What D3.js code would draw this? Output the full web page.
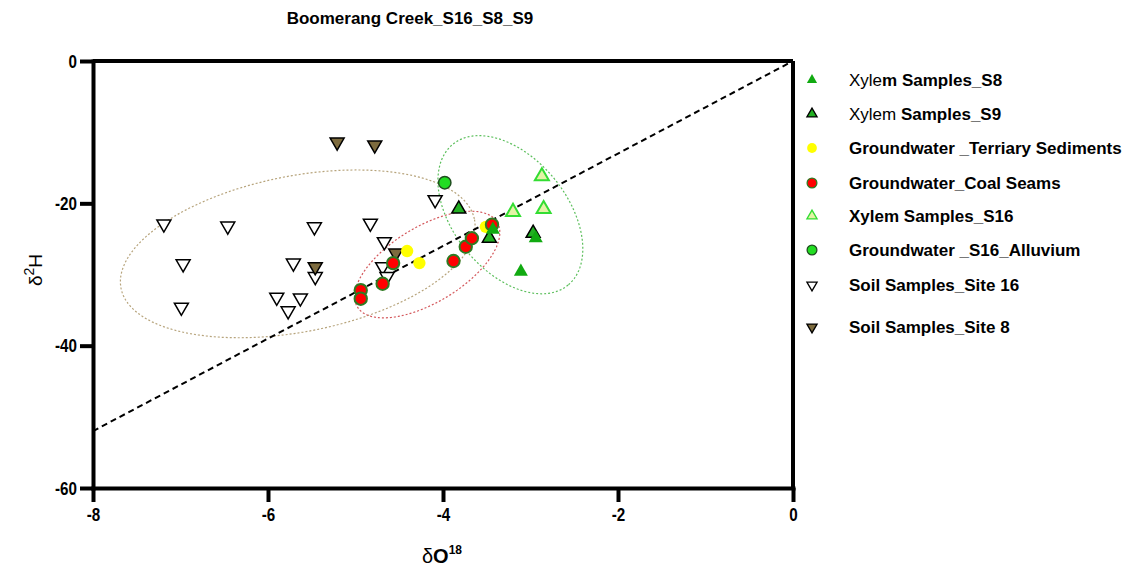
<!DOCTYPE html>
<html>
<head>
<meta charset="utf-8">
<script src="https://cdn.jsdelivr.net/npm/d3@7"></script>
<style>
  body { margin: 0; background: #fff; }
  svg { display: block; font-family: "Liberation Sans", Arial, sans-serif; }
  .axis .tick text { font-family: "Liberation Sans", Arial, sans-serif; font-weight: bold; font-size: 19px; fill: #000; }
  .axis .tick line, .axis .domain, .frame { stroke: #000; stroke-width: 4; }
</style>
</head>
<body>
<svg width="1138" height="575"></svg>
<script>

var title = 'Boomerang Creek_S16_S8_S9';
var xTicks = [-8, -6, -4, -2, 0];
var yTicks = [0, -20, -40, -60];

// [dO18, d2H]
var xylemS8 = [[-3.43, -23.7], [-2.94, -24.9], [-3.11, -29.6]];
var xylemS9 = [[-3.82, -20.8], [-3.47, -24.9], [-2.97, -24.2]];
var tertiary = [[-4.41, -26.7], [-4.27, -28.4], [-3.51, -23.3]];
var coalSeams = [[-4.94, -32.2], [-4.94, -33.4], [-4.69, -31.3], [-4.57, -28.4],
  [-3.88, -28.1], [-3.74, -26.1], [-3.67, -24.9], [-3.44, -23.0]];
var xylemS16 = [[-3.20, -21.2], [-2.87, -16.2], [-2.85, -20.8]];
var alluvium = [[-3.98, -17.1]];
var soil16 = [[-7.19, -22.9], [-6.46, -23.2], [-5.47, -23.3], [-6.97, -28.5], [-5.71, -28.4],
  [-5.46, -30.3], [-6.99, -34.6], [-5.90, -33.2], [-5.63, -33.3], [-5.77, -35.1],
  [-4.83, -22.8], [-4.67, -25.4], [-4.69, -28.9], [-4.64, -30.3], [-4.09, -19.5]];
var soil8 = [[-5.21, -11.4], [-4.78, -11.8], [-5.46, -28.9], [-4.54, -27.0]];

// dashed reference line
var refLine = [[-8, -52], [0, 0]];

// ellipses: centre and two half-axis vectors, in data units
var ellipses = [
  { color: '#b7a47c', c: [-5.66, -27.1], u: [2.02, 4.82], v: [0.17, -10.76] },
  { color: '#d4585c', c: [-4.18, -28.6], u: [0.80, 5.93], v: [0.22, -4.58] },
  { color: '#5cbf5c', c: [-3.23, -21.6], u: [0.66, -9.88], v: [-0.50, -5.09] },
];

var series = [
  { label: [['Soil Samples_Site 16', true]], data: soil16, shape: 'down', fill: '#fff', stroke: '#000', sw: 1.5 },
  { label: [['Soil Samples_Site 8', true]], data: soil8, shape: 'down', fill: '#7d6b3e', stroke: '#000', sw: 1.5 },
  { label: [['Groundwater _Terriary Sediments', true]], data: tertiary, shape: 'circle', fill: '#ffff00', stroke: 'none', sw: 0 },
  { label: [['Groundwater_Coal Seams', true]], data: coalSeams, shape: 'circle', fill: '#ff0000', stroke: '#2f7a22', sw: 2 },
  { label: [['Groundwater _S16_Alluvium', true]], data: alluvium, shape: 'circle', fill: '#22dd22', stroke: '#1f4d1f', sw: 1.5 },
  { label: [['Xylem Samples_S16', true]], data: xylemS16, shape: 'up', fill: '#e3f3a6', stroke: '#33dd33', sw: 2 },
  { label: [['Xylem', false], [' Samples_S9', true]], data: xylemS9, shape: 'up', fill: '#22b022', stroke: '#000', sw: 1.5 },
  { label: [['Xyle', false], ['m Samples_S8', true]], data: xylemS8, shape: 'up', fill: '#11aa11', stroke: 'none', sw: 0 },
];
var legendOrder = [7, 6, 2, 3, 5, 4, 0, 1];

var svg = d3.select('svg');
var x = d3.scaleLinear().domain([-8, 0]).range([93, 793]);
var y = d3.scaleLinear().domain([-60, 0]).range([488, 61]);

var symbolPath = function(shape, size) {
  var type = shape == 'circle' ? d3.symbolCircle : d3.symbolTriangle;
  return d3.symbol().type(type).size(size)();
};

svg.append('text').attr('x', 410).attr('y', 24).attr('text-anchor', 'middle')
  .style('font-weight', 'bold').style('font-size', '17px').text(title);

// frame lines at y=0 and x=0
svg.append('line').attr('class', 'frame').attr('x1', x(-8)).attr('x2', x(0)).attr('y1', y(0)).attr('y2', y(0));
svg.append('line').attr('class', 'frame').attr('x1', x(0)).attr('x2', x(0)).attr('y1', y(0)).attr('y2', y(-60));

svg.append('g').attr('class', 'axis').attr('transform', 'translate(0,' + y(-60) + ')')
  .call(d3.axisBottom(x).tickValues(xTicks).tickSize(14).tickSizeOuter(0).tickPadding(6)
    .tickFormat(function(d) { return String(d); }));
svg.append('g').attr('class', 'axis').attr('transform', 'translate(' + x(-8) + ',0)')
  .call(d3.axisLeft(y).tickValues(yTicks).tickSize(13).tickSizeOuter(0).tickPadding(3)
    .tickFormat(function(d) { return String(d); }));
svg.selectAll('.axis .domain').attr('stroke-linecap', 'square');
// narrow the tick labels like the condensed face in the original
svg.selectAll('.axis .tick text').each(function() {
  var w = this.getComputedTextLength();
  d3.select(this).attr('textLength', w * 0.8).attr('lengthAdjust', 'spacingAndGlyphs');
});

var yl = svg.append('text').attr('transform', 'translate(42,270) rotate(-90)')
  .attr('text-anchor', 'middle').style('font-size', '19px');
yl.append('tspan').text('δ');
yl.append('tspan').attr('dy', -8).style('font-size', '14px').text('2');
yl.append('tspan').attr('dy', 8).text('H');

var xl = svg.append('text').attr('x', 442).attr('y', 563)
  .attr('text-anchor', 'middle').style('font-size', '20px');
xl.append('tspan').text('δ');
xl.append('tspan').style('font-weight', 'bold').text('O');
xl.append('tspan').attr('dy', -9).style('font-size', '12px').style('font-weight', 'bold').text('18');

var plot = svg.append('g');

plot.selectAll('path.ellipse').data(ellipses).enter().append('path')
  .attr('class', 'ellipse')
  .attr('fill', 'none')
  .attr('stroke', function(d) { return d.color; })
  .attr('stroke-width', 1.2)
  .attr('stroke-dasharray', '2,2')
  .attr('d', function(e) {
    var pts = d3.range(0, 361, 3).map(function(a) {
      var t = a * Math.PI / 180;
      return [e.c[0] + Math.cos(t) * e.u[0] + Math.sin(t) * e.v[0],
              e.c[1] + Math.cos(t) * e.u[1] + Math.sin(t) * e.v[1]];
    });
    return d3.line().x(function(p) { return x(p[0]); }).y(function(p) { return y(p[1]); })(pts) + 'Z';
  });

plot.append('path')
  .attr('d', d3.line().x(function(p) { return x(p[0]); }).y(function(p) { return y(p[1]); })(refLine))
  .attr('stroke', '#000').attr('stroke-width', 2).attr('stroke-dasharray', '6,4').attr('fill', 'none');

series.forEach(function(s) {
  var size = s.shape == 'circle' ? 120 : 85;
  plot.append('g').selectAll('path').data(s.data).enter().append('path')
    .attr('d', symbolPath(s.shape, size))
    .attr('transform', function(d) {
      return 'translate(' + x(d[0]) + ',' + y(d[1]) + ')' + (s.shape == 'down' ? ' rotate(180)' : '');
    })
    .attr('fill', s.fill)
    .attr('stroke', s.stroke)
    .attr('stroke-width', s.sw);
});

// legend
var rowY = [80, 114, 148, 183, 216, 250, 285, 327];
var legend = svg.append('g');
legendOrder.forEach(function(idx, i) {
  var s = series[idx];
  var size = s.shape == 'circle' ? 75 : 45;
  legend.append('path')
    .attr('d', symbolPath(s.shape, size))
    .attr('transform', 'translate(812,' + rowY[i] + ')' + (s.shape == 'down' ? ' rotate(180)' : ''))
    .attr('fill', s.fill)
    .attr('stroke', s.stroke)
    .attr('stroke-width', s.sw ? 1.3 : 0);
  var t = legend.append('text').attr('x', 849).attr('y', rowY[i] + 6).style('font-size', '17px');
  s.label.forEach(function(part) {
    t.append('tspan').style('font-weight', part[1] ? 'bold' : 'normal').text(part[0]);
  });
});

</script>
</body>
</html>
